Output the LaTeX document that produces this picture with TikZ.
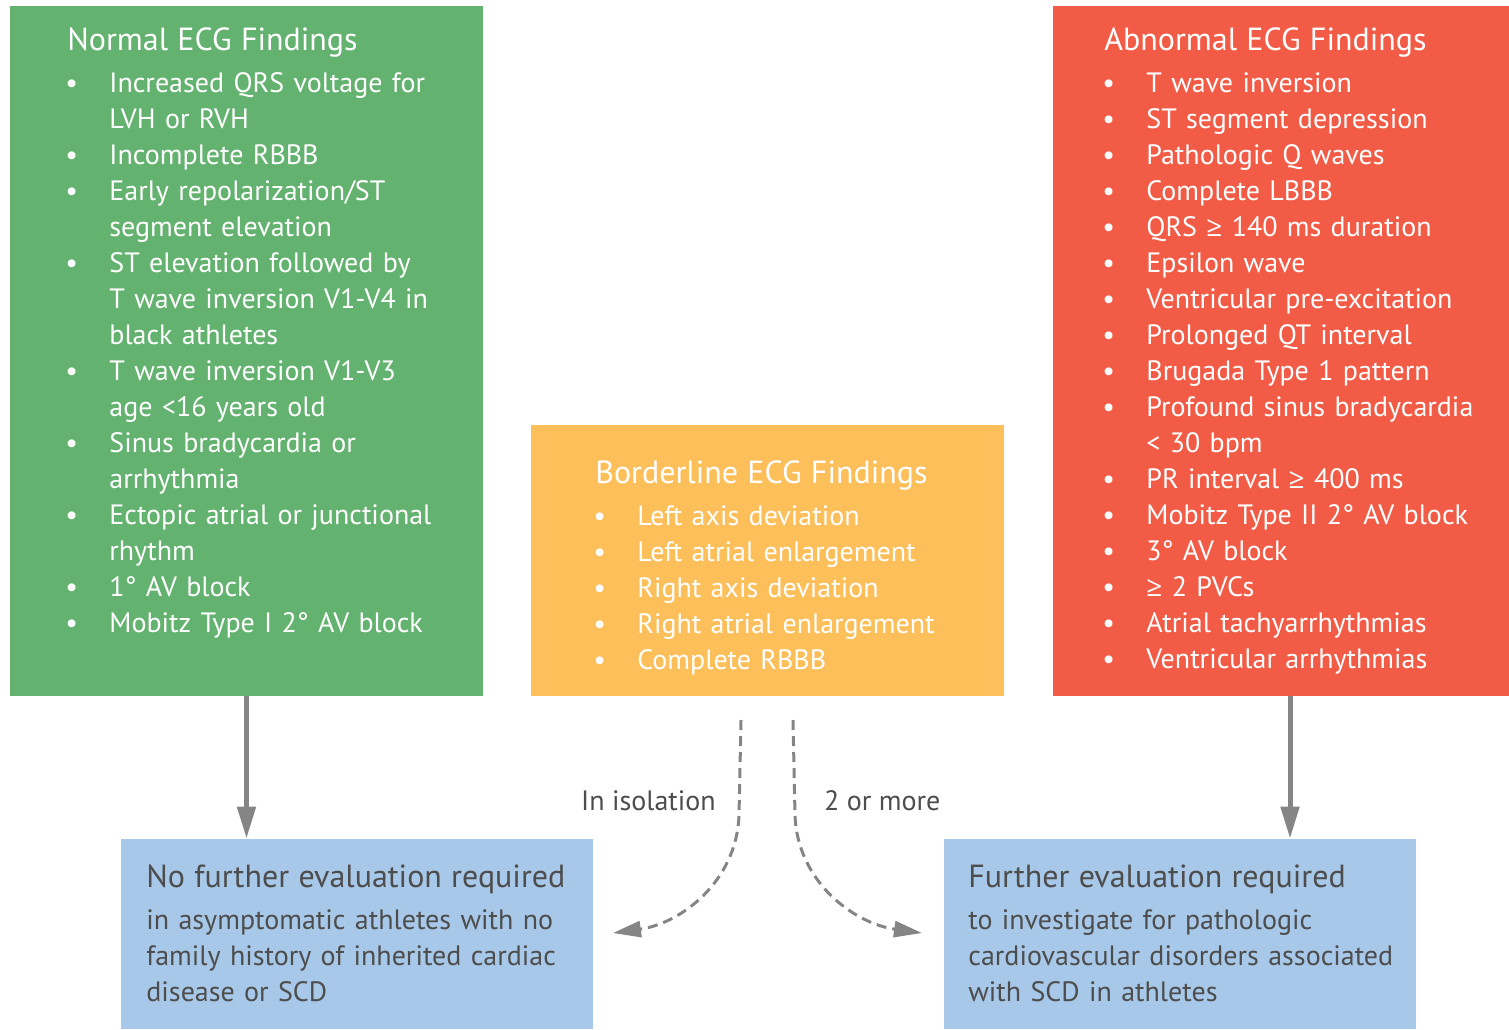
\documentclass[tikz,border=0pt]{standalone}
\usepackage{fontspec}
\setmainfont{PT Sans}
\newfontfamily\relfont{Open Sans}
\usetikzlibrary{arrows.meta, positioning, calc}

\definecolor{normalgreen}{HTML}{63B26F}
\definecolor{borderorange}{HTML}{FDBF5A}
\definecolor{abnormalred}{HTML}{F25C47}
\definecolor{evalblue}{HTML}{A7C8E8}
\definecolor{arrowgray}{HTML}{858585}
\definecolor{evaltext}{HTML}{4D4D4D}

\newcommand{\itemfont}{\fontsize{14}{18}\selectfont}
\newcommand{\headfont}{\fontsize{16}{18}\selectfont}
\newcommand{\atleast}{{\relfont ≥}}
\newcommand{\finding}[1]{\par\noindent\hangindent=21pt\hangafter=1\makebox[21pt][l]{\hspace{-1pt}\textbullet}#1}
\newcommand{\panelhead}[1]{\noindent{\headfont #1}\par\vspace{3pt}}

\begin{document}
\begin{tikzpicture}[
    x=0.5pt, y=-0.5pt,
    panel/.style={draw=none, rectangle, inner sep=0pt},
    paneltext/.style={anchor=north west, inner sep=0pt, text width=#1, font=\itemfont},
    solidarrow/.style={draw=arrowgray, line width=2.5pt, -{Triangle[length=16pt, width=9pt]}},
    dasharrow/.style={draw=arrowgray, line width=1.5pt, dash pattern=on 5pt off 3pt, -{Triangle[length=14pt, width=8pt]}},
    branchlabel/.style={font=\itemfont, text=evaltext, inner sep=0pt}
]
\useasboundingbox (0,0) rectangle (1509,1029);

% Finding panels
\node[panel, fill=normalgreen, minimum width=236.5pt, minimum height=345pt] (normal) at (246.5,351) {};
\node[panel, fill=borderorange, minimum width=236.5pt, minimum height=135.5pt] (borderline) at (767.5,560.5) {};
\node[panel, fill=abnormalred, minimum width=228pt, minimum height=345pt] (abnormal) at (1281,351) {};

% Evaluation panels
\node[panel, fill=evalblue, minimum width=236pt, minimum height=95pt] (noeval) at (357,934) {};
\node[panel, fill=evalblue, minimum width=236pt, minimum height=95pt] (furthereval) at (1180,934) {};

% Panel texts
\node[paneltext=205pt, text=white] (normaltext) at (67,27) {%
  \panelhead{Normal ECG Findings}
  \finding{Increased QRS voltage for\newline LVH or RVH}
  \finding{Incomplete RBBB}
  \finding{Early repolarization/ST\newline segment elevation}
  \finding{ST elevation followed by\newline T wave inversion V1-V4 in\newline black athletes}
  \finding{T wave inversion V1-V3\newline age <16 years old}
  \finding{Sinus bradycardia or\newline arrhythmia}
  \finding{Ectopic atrial or junctional\newline rhythm}
  \finding{1° AV block}
  \finding{Mobitz Type I 2° AV block}\par};

\node[paneltext=200pt, text=white] (borderlinetext) at (595,460) {%
  \panelhead{Borderline ECG Findings}
  \finding{Left axis deviation}
  \finding{Left atrial enlargement}
  \finding{Right axis deviation}
  \finding{Right atrial enlargement}
  \finding{Complete RBBB}\par};

\node[paneltext=200pt, text=white] (abnormaltext) at (1104,27) {%
  \panelhead{Abnormal ECG Findings}
  \finding{T wave inversion}
  \finding{ST segment depression}
  \finding{Pathologic Q waves}
  \finding{Complete LBBB}
  \finding{QRS \atleast{} 140 ms duration}
  \finding{Epsilon wave}
  \finding{Ventricular pre-excitation}
  \finding{Prolonged QT interval}
  \finding{Brugada Type 1 pattern}
  \finding{Profound sinus bradycardia\newline < 30 bpm}
  \finding{PR interval \atleast{} 400 ms}
  \finding{Mobitz Type II 2° AV block}
  \finding{3° AV block}
  \finding{\atleast{} 2 PVCs}
  \finding{Atrial tachyarrhythmias}
  \finding{Ventricular arrhythmias}\par};

\node[paneltext=220pt, text=evaltext] (noevaltext) at (146,864) {%
  \panelhead{No further evaluation required}
  \noindent in asymptomatic athletes with no\newline
  family history of inherited cardiac\newline
  disease or SCD\par};

\node[paneltext=220pt, text=evaltext] (furtherevaltext) at (968,864) {%
  \panelhead{Further evaluation required}
  \noindent to investigate for pathologic\newline
  cardiovascular disorders associated\newline
  with SCD in athletes\par};

% Solid arrows
\draw[solidarrow] (normal.south) -- (normal.south |- noeval.north);
\draw[solidarrow] ([xshift=4.5pt]abnormal.south) -- ([xshift=4.5pt]abnormal.south |- furthereval.north);

% Dashed branches from borderline findings
\coordinate (isotop) at (741,720);
\coordinate (isobend) at (739,815);
\coordinate (isoend) at (613,933);
\coordinate (moretop) at (793,720);
\coordinate (morebend) at (795,815);
\coordinate (moreend) at (922,933);

\draw[dasharrow] (isotop) -- node[branchlabel, pos=0.85, left=11pt] {In isolation} (isobend)
  to[out=-92, in=8] (isoend);
\draw[dasharrow] (moretop) -- node[branchlabel, pos=0.85, right=14pt] {2 or more} (morebend)
  to[out=-88, in=172] (moreend);

\end{tikzpicture}
\end{document}
